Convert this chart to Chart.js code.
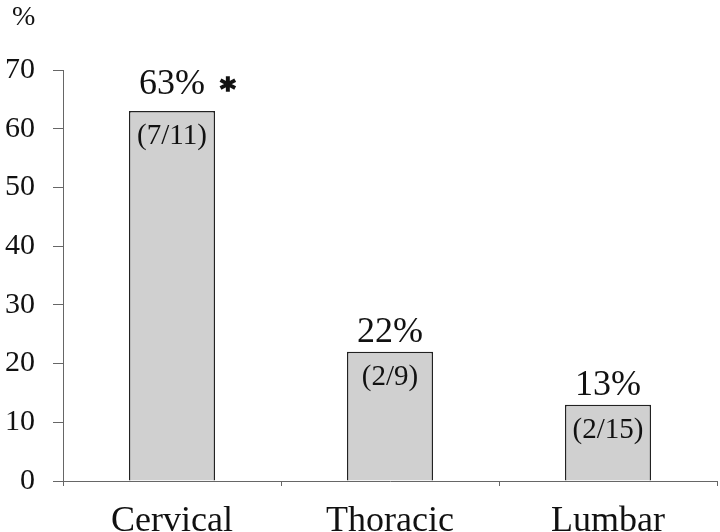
<!DOCTYPE html>
<html><head><meta charset="utf-8">
<script src="https://cdn.jsdelivr.net/npm/chart.js@4/dist/chart.umd.min.js"></script>
<style>html,body{margin:0;padding:0;background:#fff}#wrap{width:720px;height:532px}</style>
</head><body><div id="wrap"><canvas id="c" width="720" height="532"></canvas></div>
<script>
const categories = ["Cervical", "Thoracic", "Lumbar"];
const percentages = [63, 22, 13];
const valueLabels = ["63%", "22%", "13%"];
const ratioLabels = ["(7/11)", "(2/9)", "(2/15)"];
const significance = ["*", "", ""];
const yTicks = [0, 10, 20, 30, 40, 50, 60, 70];
const yUnit = "%";

const SERIF = "'Liberation Serif', 'DejaVu Serif', serif";

const labelPlugin = {
  id: 'barLabels',
  afterDatasetsDraw(chart, args, opts) {
    const ctx = chart.ctx;
    const meta = chart.getDatasetMeta(0);
    ctx.save();
    ctx.fillStyle = '#111';
    meta.data.forEach((el, i) => {
      const x = el.x, top = el.y;
      const gap = opts.gaps[i];
      ctx.font = "36px " + SERIF;
      ctx.textAlign = 'center';
      ctx.textBaseline = 'alphabetic';
      ctx.fillText(valueLabels[i], x, top - gap);
      const w = ctx.measureText(valueLabels[i]).width;
      if (significance[i]) {
        ctx.font = "bold 30px 'DejaVu Sans', sans-serif";
        ctx.textAlign = 'left';
        ctx.strokeStyle = '#111';
        ctx.lineWidth = 1.5;
        ctx.fillText(significance[i], x + w / 2 + 15, top - gap + 5);
        ctx.strokeText(significance[i], x + w / 2 + 15, top - gap + 5);
      }
      ctx.font = "29px " + SERIF;
      ctx.textAlign = 'center';
      ctx.fillText(ratioLabels[i], x, top + 33);
    });
    ctx.font = "28px " + SERIF;
    ctx.textAlign = 'left';
    ctx.fillText(yUnit, 12, 25);
    ctx.restore();
  }
};

new Chart(document.getElementById('c'), {
  type: 'bar',
  data: {
    labels: categories,
    datasets: [{
      data: percentages,
      backgroundColor: '#d0d0d0',
      borderColor: '#222',
      borderWidth: 1.5,
      categoryPercentage: 1,
      barPercentage: 0.395
    }]
  },
  options: {
    responsive: false,
    animation: false,
    devicePixelRatio: 1,
    layout: { padding: { top: 70, right: 3, left: 0, bottom: 0 } },
    plugins: {
      legend: { display: false },
      tooltip: { enabled: false },
      barLabels: { gaps: [17, 10, 10] }
    },
    scales: {
      x: {
        afterFit: s => { s.height = 51; },
        grid: { offset: true, drawOnChartArea: false, drawTicks: true, tickLength: 5, color: '#666' },
        border: { color: '#666', width: 1 },
        ticks: { color: '#111', font: { family: SERIF, size: 36 }, padding: 14 }
      },
      y: {
        min: 0, max: 70,
        afterFit: s => { s.width = 63; },
        afterBuildTicks: s => { s.ticks = yTicks.map(v => ({ value: v })); },
        grid: { drawOnChartArea: false, drawTicks: true, tickLength: 10, color: '#666' },
        border: { color: '#666', width: 1 },
        ticks: { color: '#111', font: { family: SERIF, size: 30 }, padding: 18 }
      }
    }
  },
  plugins: [labelPlugin]
});
</script>
</body></html>
